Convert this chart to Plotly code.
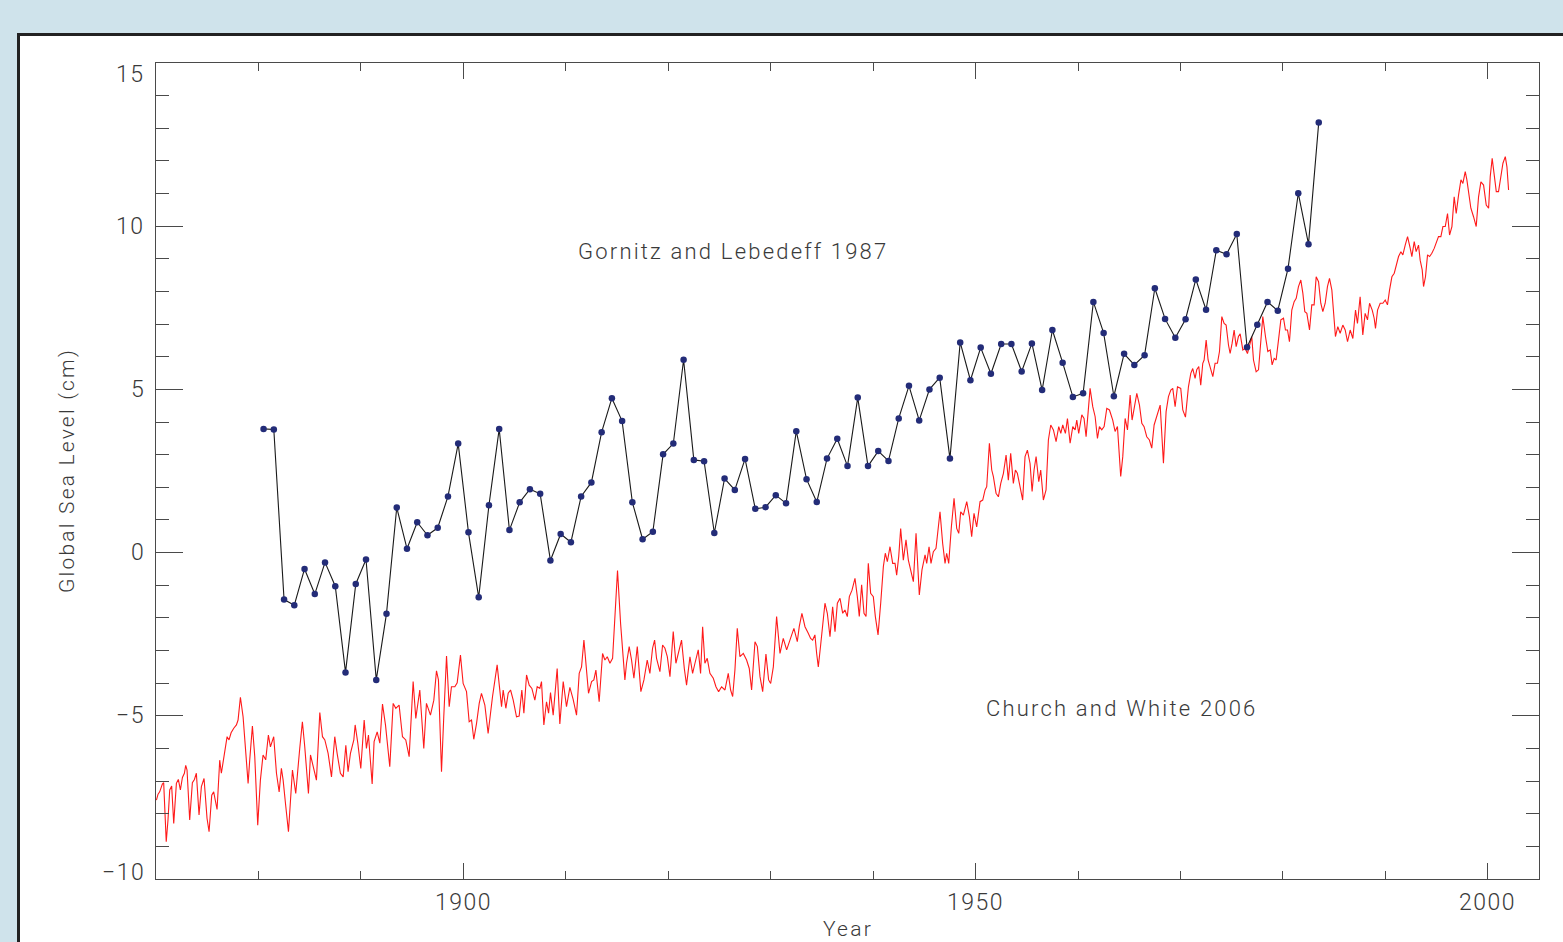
import numpy as np
import plotly.graph_objects as go

# ---------------- data ----------------
# Gornitz and Lebedeff 1987 (annual, plotted at mid-year)
gl_years = np.arange(1880.5, 1984.0, 1.0)
gl_values = [
    3.79, 3.77, -1.44, -1.61, -0.50, -1.27, -0.30, -1.03, -3.67, -0.96,
    -0.21, -3.90, -1.87, 1.38, 0.12, 0.93, 0.53, 0.76, 1.72, 3.34,
    0.62, -1.37, 1.45, 3.79, 0.69, 1.54, 1.94, 1.80, -0.24, 0.57,
    0.32, 1.72, 2.15, 3.69, 4.73, 4.03, 1.54, 0.41, 0.64, 3.01,
    3.34, 5.91, 2.84, 2.80, 0.60, 2.27, 1.92, 2.87, 1.34, 1.39,
    1.76, 1.51, 3.72, 2.25, 1.55, 2.88, 3.49, 2.65, 4.75, 2.65,
    3.11, 2.81, 4.11, 5.11, 4.05, 5.00, 5.36, 2.88, 6.44, 5.28,
    6.28, 5.48, 6.39, 6.39, 5.55, 6.41, 4.98, 6.82, 5.82, 4.77,
    4.88, 7.68, 6.73, 4.79, 6.09, 5.75, 6.05, 8.10, 7.16, 6.58,
    7.15, 8.37, 7.44, 9.26, 9.14, 9.76, 6.29, 6.98, 7.68, 7.41,
    8.70, 11.01, 9.45, 13.18,
]

cw_years = [
    1870.04, 1870.20, 1870.36, 1870.62, 1870.75, 1870.95, 1871.00, 1871.17, 1871.34, 1871.53,
    1871.73, 1871.99, 1872.18, 1872.38, 1872.58, 1872.77, 1872.90, 1873.03, 1873.29, 1873.55,
    1873.75, 1873.94, 1874.20, 1874.43, 1874.69, 1874.98, 1875.18, 1875.44, 1875.63, 1875.96,
    1876.22, 1876.38, 1876.68, 1876.94, 1877.13, 1877.33, 1877.59, 1877.85, 1878.01, 1878.24,
    1878.50, 1878.76, 1878.99, 1879.15, 1879.41, 1879.64, 1879.93, 1880.19, 1880.45, 1880.71,
    1880.97, 1881.17, 1881.49, 1881.76, 1882.02, 1882.24, 1882.41, 1882.67, 1882.93, 1883.32,
    1883.64, 1884.03, 1884.29, 1884.52, 1884.75, 1884.88, 1885.08, 1885.34, 1885.66, 1885.99,
    1886.25, 1886.48, 1886.80, 1887.13, 1887.45, 1887.68, 1888.00, 1888.27, 1888.53, 1888.75,
    1888.98, 1889.31, 1889.44, 1889.70, 1889.99, 1890.32, 1890.54, 1890.74, 1891.10, 1891.29,
    1891.59, 1891.85, 1892.11, 1892.40, 1892.82, 1893.15, 1893.41, 1893.73, 1894.06, 1894.38,
    1894.71, 1895.10, 1895.36, 1895.75, 1896.14, 1896.40, 1896.79, 1897.12, 1897.38, 1897.57,
    1897.87, 1898.09, 1898.36, 1898.62, 1898.84, 1899.17, 1899.40, 1899.72, 1899.98, 1900.31,
    1900.57, 1900.80, 1901.02, 1901.29, 1901.55, 1901.77, 1902.10, 1902.42,
    1902.85, 1903.30, 1903.50, 1903.73, 1903.89, 1904.15, 1904.38, 1904.61, 1904.87, 1905.19,
    1905.45, 1905.71, 1905.91, 1906.17, 1906.43, 1906.69, 1906.98, 1907.21, 1907.47, 1907.63,
    1907.86, 1908.12, 1908.32, 1908.51, 1908.77, 1909.16, 1909.42, 1909.75, 1910.07, 1910.40,
    1910.72, 1911.05, 1911.31, 1911.54, 1911.77, 1911.96, 1912.22, 1912.52, 1912.74, 1912.94,
    1913.26, 1913.59, 1913.82, 1914.05, 1914.31, 1914.57, 1914.80, 1915.05, 1915.35, 1915.54,
    1915.77, 1915.93, 1916.19, 1916.42, 1916.65, 1916.98, 1917.33, 1917.63, 1917.95, 1918.21,
    1918.47, 1918.67, 1918.86, 1919.19, 1919.45, 1919.68, 1919.91, 1920.17, 1920.49, 1920.75,
    1921.08, 1921.30, 1921.57, 1921.79, 1922.12, 1922.38, 1922.61, 1922.93, 1923.16, 1923.36,
    1923.58, 1923.81, 1924.07, 1924.40, 1924.66, 1924.92, 1925.21, 1925.54, 1925.86, 1926.09,
    1926.29, 1926.51, 1926.74, 1927.00, 1927.33, 1927.65, 1927.91, 1928.14, 1928.47, 1928.70,
    1928.96, 1929.22, 1929.54, 1929.80, 1930.00, 1930.26, 1930.58, 1930.91, 1931.23, 1931.56,
    1931.88, 1932.27, 1932.60, 1932.79, 1933.05, 1933.35, 1933.67, 1933.90, 1934.10, 1934.32,
    1934.49, 1934.65, 1934.88, 1935.30, 1935.53,
    1935.79, 1936.05, 1936.28, 1936.51, 1936.77, 1937.03, 1937.25, 1937.48, 1937.68, 1937.94,
    1938.23, 1938.46, 1938.65, 1938.88, 1939.11, 1939.31, 1939.53, 1939.76, 1940.02, 1940.22,
    1940.48, 1940.74, 1941.00, 1941.19, 1941.39, 1941.65, 1941.91, 1942.14, 1942.30, 1942.50,
    1942.69, 1942.95, 1943.21, 1943.44, 1943.67, 1943.93, 1944.19, 1944.35, 1944.51, 1944.77,
    1945.07, 1945.23, 1945.46, 1945.65, 1945.88, 1946.14, 1946.27, 1946.53, 1946.79, 1947.02,
    1947.18, 1947.38, 1947.64, 1947.90, 1948.16, 1948.36, 1948.55, 1948.81, 1949.14, 1949.40,
    1949.62, 1949.85, 1950.11, 1950.44, 1950.70, 1950.93, 1951.09, 1951.35, 1951.58, 1951.74,
    1952.00, 1952.23, 1952.46, 1952.72, 1952.98, 1953.20, 1953.43, 1953.69, 1953.89, 1954.08,
    1954.34, 1954.60, 1954.83, 1955.06, 1955.32, 1955.52, 1955.71, 1955.91, 1956.17, 1956.36,
    1956.62, 1956.88, 1957.11, 1957.34, 1957.60, 1957.86, 1958.12, 1958.32, 1958.51, 1958.77,
    1958.97, 1959.23, 1959.49, 1959.72, 1959.88, 1960.07, 1960.37, 1960.59, 1960.79, 1961.18,
    1961.44, 1961.67, 1961.90, 1962.09, 1962.32, 1962.55, 1962.81, 1963.07, 1963.39, 1963.62,
    1963.85, 1964.17, 1964.37, 1964.60, 1964.83, 1965.09, 1965.28, 1965.48, 1965.74, 1966.00,
    1966.23, 1966.45, 1966.71, 1966.97, 1967.20, 1967.43, 1967.69, 1968.02, 1968.34, 1968.60,
    1968.83, 1969.06,
    1969.25, 1969.48, 1969.71, 1970.03, 1970.23, 1970.49, 1970.78, 1971.01, 1971.20, 1971.43,
    1971.59, 1971.79, 1971.98, 1972.18, 1972.31, 1972.51, 1972.70, 1972.90, 1973.16, 1973.38,
    1973.61, 1973.81, 1974.04, 1974.26, 1974.46, 1974.69, 1974.85, 1975.04, 1975.24, 1975.44,
    1975.66, 1975.83, 1976.09, 1976.31, 1976.54, 1976.80, 1976.96, 1977.13, 1977.39, 1977.62,
    1977.84, 1978.04, 1978.30, 1978.53, 1978.76, 1978.95, 1979.15, 1979.34, 1979.57, 1979.80,
    1980.06, 1980.25, 1980.45, 1980.64, 1980.87, 1981.10, 1981.30, 1981.52, 1981.75, 1981.95,
    1982.14, 1982.34, 1982.60, 1982.82, 1983.05, 1983.25, 1983.48, 1983.70, 1983.90, 1984.13,
    1984.35, 1984.55, 1984.78, 1984.94, 1985.13, 1985.36, 1985.59, 1985.85, 1986.08, 1986.31,
    1986.57, 1986.83, 1987.09, 1987.28, 1987.54, 1987.80, 1988.03, 1988.26, 1988.46, 1988.72,
    1988.91, 1989.04, 1989.24, 1989.50, 1989.76, 1989.99, 1990.21, 1990.41, 1990.64, 1990.87,
    1991.06, 1991.29, 1991.52, 1991.71, 1991.94, 1992.17, 1992.43, 1992.59, 1992.82, 1993.01,
    1993.24, 1993.40, 1993.60, 1993.73, 1993.92, 1994.12, 1994.32, 1994.54, 1994.77, 1994.97,
    1995.19, 1995.42, 1995.62, 1995.85, 1996.07, 1996.27, 1996.50, 1996.72, 1996.92, 1997.15,
    1997.38, 1997.57, 1997.80, 1997.96, 1998.16, 1998.35, 1998.61, 1998.87, 1999.10, 1999.33,
    1999.59, 1999.85, 2000.08, 2000.24, 2000.43, 2000.63, 2000.83, 2001.05, 2001.28, 2001.48,
    2001.71, 2001.87, 2002.03,
]
cw_values = [
    -7.58, -7.40, -7.33, -7.09, -7.05, -8.81, -8.86, -8.19, -7.27, -7.15,
    -8.30, -7.07, -6.95, -7.27, -6.89, -6.76, -6.52, -6.66, -8.19, -7.05,
    -6.95, -6.76, -8.04, -7.17, -6.92, -8.14, -8.55, -7.43, -7.33, -7.87,
    -6.36, -6.76, -6.10, -5.64, -5.74, -5.52, -5.38, -5.28, -5.13, -4.43,
    -5.03, -6.05, -7.07, -6.35, -5.31, -6.25, -8.35, -6.97, -6.20, -6.35,
    -5.59, -5.95, -5.64, -6.76, -7.33, -6.61, -6.97, -7.78, -8.55, -6.66,
    -7.38, -6.00, -5.18, -5.95, -6.97, -7.38, -6.20, -6.56, -6.97, -4.90,
    -5.64, -5.74, -6.15, -6.87, -5.64, -6.15, -6.76, -6.87, -5.90, -6.71,
    -6.15, -5.74, -5.28, -5.84, -6.61, -5.13, -6.00, -5.59, -7.09, -5.79,
    -5.49, -5.84, -4.64, -5.28, -6.56, -4.62, -4.77, -4.67, -5.64, -5.74,
    -6.25, -3.95, -5.08, -4.21, -6.00, -4.62, -4.98, -4.52, -3.62, -3.90,
    -6.71, -5.03, -3.17, -4.72, -4.11, -4.11, -3.99, -3.14, -4.01, -4.26,
    -5.18, -5.13, -5.72, -5.23, -4.62, -4.31, -4.67, -5.54,
    -4.41, -3.44, -3.95, -4.72, -4.21, -4.77, -4.31, -4.21, -4.52, -5.03,
    -5.01, -4.21, -4.92, -3.75, -4.06, -4.16, -4.52, -4.11, -4.16, -3.95,
    -5.28, -4.57, -4.92, -4.29, -4.98, -3.55, -5.25, -3.95, -4.72, -4.13,
    -4.50, -4.98, -3.70, -3.50, -2.68, -3.29, -4.31, -3.95, -3.90, -3.60,
    -4.57, -3.09, -3.29, -3.19, -3.39, -3.24, -1.96, -0.55, -2.17, -2.88,
    -3.90, -3.39, -2.88, -3.29, -3.85, -2.88, -4.26, -3.90, -3.29, -3.70,
    -2.93, -2.68, -3.24, -3.65, -2.83, -2.93, -3.19, -3.80, -2.42, -3.39,
    -2.98, -2.68, -3.55, -4.06, -3.19, -3.70, -3.39, -2.98, -3.70, -2.27,
    -3.39, -3.24, -3.70, -3.85, -4.11, -4.26, -4.11, -4.21, -3.70, -4.21,
    -4.41, -3.60, -2.32, -3.19, -3.09, -3.29, -3.55, -4.21, -2.73, -2.88,
    -3.80, -4.26, -3.11, -3.90, -4.01, -3.50, -1.96, -3.09, -2.63, -2.98,
    -2.68, -2.32, -2.73, -2.27, -1.86, -2.27, -2.47, -2.63, -2.68, -2.52,
    -3.09, -3.50, -2.83, -1.55, -1.86,
    -2.58, -1.66, -2.42, -1.55, -1.40, -1.86, -1.76, -1.96, -1.35, -1.15,
    -0.79, -1.35, -1.96, -0.99, -1.86, -1.96, -0.33, -1.25, -1.35, -1.96,
    -2.52, -1.55, -0.43, -0.02, -0.28, 0.18, -0.33, -0.33, -0.69, -0.12,
    0.74, -0.23, 0.39, -0.23, -0.58, -0.89, 0.59, -0.53, -1.30, -0.53,
    -0.07, -0.33, 0.18, -0.33, 0.03, 0.13, 0.49, 1.25, 0.28, -0.33,
    -0.02, -0.33, 0.79, 1.66, 0.74, 0.59, 1.25, 1.15, 1.56, 1.10,
    0.49, 1.20, 0.79, 1.56, 1.61, 1.92, 2.02, 3.35, 2.53, 2.33,
    1.82, 1.71, 2.12, 2.43, 2.99, 2.22, 3.04, 2.12, 2.53, 2.43,
    2.02, 1.61, 2.94, 3.14, 2.73, 1.87, 2.53, 2.94, 2.17, 2.53,
    1.61, 1.92, 3.45, 3.91, 3.76, 3.40, 3.86, 3.65, 3.91, 3.65,
    4.11, 3.35, 3.86, 3.76, 4.06, 3.65, 4.22, 4.11, 3.55, 5.03,
    4.47, 4.17, 3.50, 3.86, 3.76, 3.86, 4.42, 4.37, 4.06, 3.71,
    3.86, 2.33, 2.94, 4.11, 3.76, 4.83, 4.06, 4.42, 4.88, 4.52,
    3.96, 3.86, 3.55, 3.45, 3.20, 3.91, 4.17, 4.52, 2.74, 4.32,
    4.78, 4.98,
    5.03, 4.47, 5.08, 5.03, 4.37, 4.15, 5.08, 5.49, 5.64, 5.34,
    5.60, 5.70, 5.13, 5.80, 5.90, 6.51, 5.90, 5.70, 5.39, 5.80,
    5.80, 6.16, 7.23, 7.02, 6.97, 6.36, 6.10, 6.41, 6.82, 6.31,
    6.62, 6.70, 6.21, 6.26, 6.10, 6.41, 6.62, 5.90, 5.54, 5.60,
    6.41, 7.23, 6.62, 6.16, 6.21, 5.75, 5.95, 5.90, 6.51, 7.13,
    7.18, 6.82, 6.82, 6.46, 7.43, 7.69, 7.79, 8.15, 8.35, 7.94,
    7.38, 7.33, 6.82, 7.59, 7.59, 8.45, 8.30, 7.64, 7.38, 7.64,
    8.15, 8.40, 8.04, 7.33, 6.62, 6.92, 6.72, 6.97, 6.82, 6.46,
    6.82, 6.56, 7.43, 7.02, 7.84, 6.67, 7.33, 7.13, 7.64, 7.43,
    7.18, 6.87, 7.43, 7.64, 7.64, 7.74, 7.59, 8.04, 8.45, 8.56,
    8.81, 9.07, 9.22, 9.12, 9.42, 9.68, 9.32, 9.07, 9.53, 9.22,
    9.42, 8.96, 8.66, 8.15, 8.45, 9.12, 9.07, 9.17, 9.32, 9.47,
    9.68, 9.68, 9.99, 9.99, 10.39, 9.73, 9.99, 10.90, 10.39, 10.96,
    11.42, 11.31, 11.67, 11.42, 10.90, 10.55, 10.29, 9.99, 10.90, 11.36,
    11.26, 10.65, 10.55, 11.52, 12.08, 11.57, 11.06, 11.06, 11.62, 11.93,
    12.13, 11.82, 11.11,
]

x_range = [1870, 2005]
y_range = [-10, 15]
y_tick_vals = [-10, -5, 0, 5, 10, 15]
y_tick_text = ["\u221210", "\u22125", "0", "5", "10", "15"]
x_tick_vals = [1900, 1950, 2000]
x_tick_text = ["1900", "1950", "2000"]

label_gl = "Gornitz and Lebedeff 1987"
label_cw = "Church and White 2006"
x_title = "Year"
y_title = "Global Sea Level (cm)"

# ---------------- styling ----------------
FONT = "Roboto"
TXT = "#3a3a3a"
AX = "#4a4a4a"


def spaced(s, px=2.2):
    return f'<span style="letter-spacing:{px}px">{s}</span>'


fig = go.Figure()

fig.add_trace(go.Scatter(
    x=cw_years, y=cw_values, mode="lines",
    line=dict(color="#ff1a1a", width=1.1),
    showlegend=False, hoverinfo="skip",
))
fig.add_trace(go.Scatter(
    x=gl_years, y=gl_values, mode="lines+markers",
    line=dict(color="#1a1a1a", width=1.1),
    marker=dict(color="#232c78", size=6.5, line=dict(width=0)),
    showlegend=False, hoverinfo="skip",
))

W, H = 1563, 942
L, R, T, B = 156, 24, 63, 63
pw = W - L - R
ph = H - T - B

# outer panel: white box with a dark frame on a light-blue page
fig.add_shape(
    type="rect", xref="paper", yref="paper", layer="below",
    x0=(18.5 - L) / pw, x1=(W + 40 - L) / pw,
    y0=-(B + 40) / ph, y1=1 + (T - 34.5) / ph,
    fillcolor="white", line=dict(color="#222222", width=3),
)

annotations = []
for v, t in zip(y_tick_vals, y_tick_text):
    ys = 0
    if v == y_range[1]:
        ys = -11
    elif v == y_range[0]:
        ys = 7
    annotations.append(dict(
        x=0, xref="paper", y=v, yref="y", text=spaced(t, 1.5),
        xanchor="right", yanchor="middle", xshift=-9, yshift=ys,
        showarrow=False, font=dict(family=FONT, size=23, color=TXT, weight=300),
    ))
for v, t in zip(x_tick_vals, x_tick_text):
    annotations.append(dict(
        x=v, xref="x", y=0, yref="paper", text=spaced(t, 1.5),
        xanchor="center", yanchor="middle", yshift=-23,
        showarrow=False, font=dict(family=FONT, size=23, color=TXT, weight=300),
    ))
annotations += [
    dict(x=0.5, xref="paper", y=0, yref="paper", text=spaced(x_title),
         xanchor="center", yanchor="middle", yshift=-50, showarrow=False,
         font=dict(family=FONT, size=21, color=TXT, weight=300)),
    dict(x=0, xref="paper", y=0.5, yref="paper", text=spaced(y_title),
         textangle=-90, xanchor="center", yanchor="middle", xshift=-89,
         showarrow=False, font=dict(family=FONT, size=21, color=TXT, weight=300)),
    dict(x=1926.3, y=9.24, xref="x", yref="y", text=spaced(label_gl),
         xanchor="center", yanchor="middle", showarrow=False,
         font=dict(family=FONT, size=22, color=TXT, weight=300)),
    dict(x=1964.3, y=-4.79, xref="x", yref="y", text=spaced(label_cw),
         xanchor="center", yanchor="middle", showarrow=False,
         font=dict(family=FONT, size=22, color=TXT, weight=300)),
]

fig.update_layout(
    width=W, height=H,
    margin=dict(l=L, r=R, t=T, b=B, pad=0),
    paper_bgcolor="#cfe3eb",
    plot_bgcolor="rgba(0,0,0,0)",
    annotations=annotations,
    showlegend=False,
)
fig.update_xaxes(
    range=x_range, showgrid=False, zeroline=False,
    showline=True, linecolor=AX, linewidth=1.3, mirror="ticks",
    ticks="inside", tickvals=x_tick_vals, ticklen=16, tickwidth=1.3, tickcolor=AX,
    showticklabels=False,
    minor=dict(dtick=10, tick0=1870, ticks="inside", ticklen=8, tickwidth=1.3,
               tickcolor=AX, showgrid=False),
)
fig.update_yaxes(
    range=y_range, showgrid=False, zeroline=False,
    showline=True, linecolor=AX, linewidth=1.3, mirror="ticks",
    ticks="inside", tickvals=y_tick_vals, ticklen=27, tickwidth=1.3, tickcolor=AX,
    showticklabels=False,
    minor=dict(dtick=1, tick0=0, ticks="inside", ticklen=13, tickwidth=1.3,
               tickcolor=AX, showgrid=False),
)

fig.write_html("out.html")
